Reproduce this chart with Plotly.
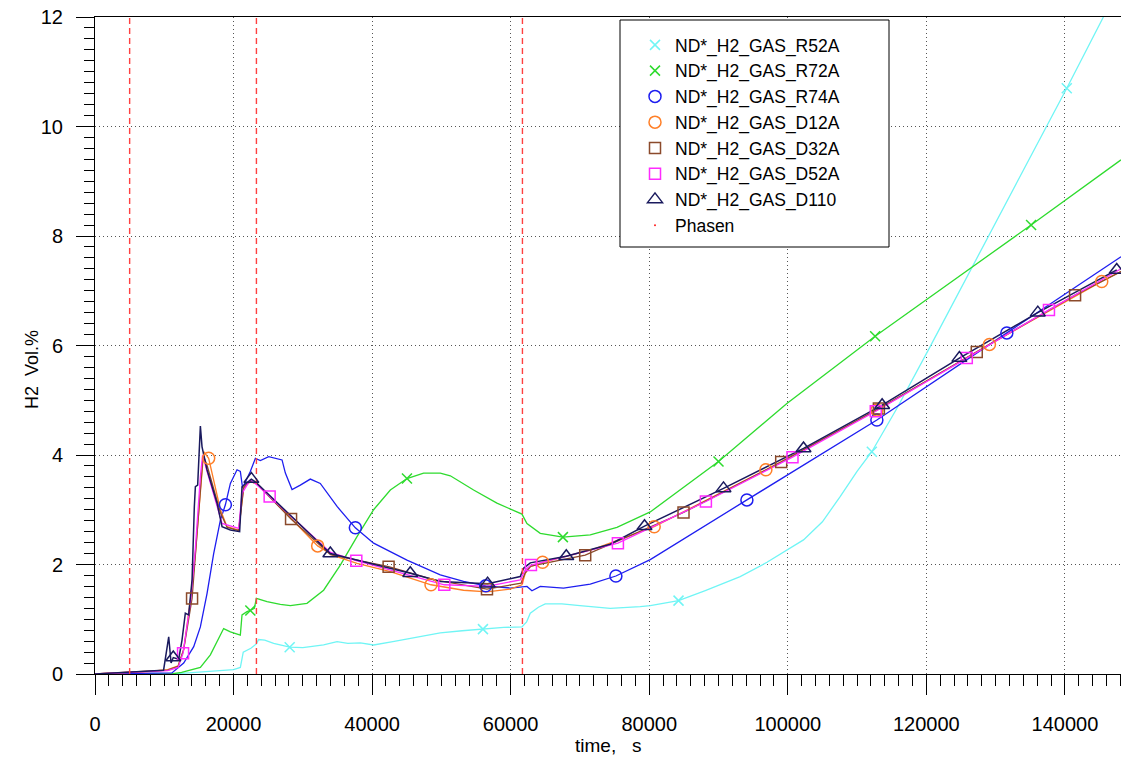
import plotly.graph_objects as go

# ---------------- data ----------------
phase_t = [5000, 23300, 61700]

r52a_t = [0, 11000, 13500, 16000, 18500, 20000, 20980, 21400, 22500, 23290, 23630, 24500, 25790,
          28100, 30000, 33000, 34940, 36500, 38300, 40220, 43000, 46000, 49840, 53000, 56000,
          59000, 61630, 62300, 62830, 64000, 64990, 67400, 70000, 74370, 78700, 80150, 84230,
          88000, 93130, 97000, 102270, 105000, 107560, 110000, 112130, 115740, 120550, 124000,
          128730, 134000, 140270, 145560]
r52a_v = [0, 0, 0.02, 0.04, 0.06, 0.08, 0.12, 0.40, 0.47, 0.55, 0.63, 0.62, 0.56,
          0.49, 0.48, 0.53, 0.59, 0.56, 0.57, 0.53, 0.59, 0.66, 0.75, 0.79, 0.82,
          0.85, 0.86, 0.95, 1.11, 1.22, 1.28, 1.28, 1.25, 1.20, 1.23, 1.25, 1.34,
          1.52, 1.78, 2.04, 2.45, 2.78, 3.24, 3.70, 4.06, 4.85, 5.98, 6.80,
          7.93, 9.20, 10.70, 12.0]
r52a_mk = [28100, 56000, 84230, 112130, 140270]

r72a_t = [0, 11000, 12500, 13770, 15210, 16650, 17600, 18570, 19540, 20980, 21220, 21940, 22420,
          23000, 23290, 24830, 26750, 28200, 30600, 33000, 35410, 37820, 40220, 42630, 45030,
          47430, 49840, 51290, 54650, 58020, 61630, 62350, 64270, 67540, 71490, 75340, 80150,
          90000, 99870, 112610, 135120, 148100]
r72a_v = [0, 0, 0.03, 0.07, 0.12, 0.35, 0.60, 0.83, 0.77, 0.71, 1.08, 1.14, 1.16,
          1.20, 1.38, 1.32, 1.27, 1.25, 1.29, 1.53, 1.99, 2.51, 3.00, 3.36, 3.57,
          3.67, 3.67, 3.62, 3.36, 3.12, 2.92, 2.75, 2.57, 2.50, 2.54, 2.68, 2.96,
          3.88, 4.94, 6.17, 8.20, 9.39]
r72a_mk = [22420, 45030, 67540, 90000, 112610, 135120]

r74a_t = [0, 11100, 12800, 14250, 15210, 16170, 17130, 18100, 18820, 19540, 20500, 20980, 21300,
          21700, 22420, 23150, 23870, 25070, 27000, 27480, 28440, 29640, 31080, 32520, 34940,
          37580, 40220, 45030, 49840, 53200, 56400, 59940, 62350, 63070, 64270, 67630, 71490,
          75190, 80150, 94100, 112860, 131620, 148100]
r74a_v = [0, 0.02, 0.20, 0.50, 0.86, 1.47, 2.20, 2.81, 3.09, 3.48, 3.73, 3.70, 3.40,
          3.50, 3.70, 3.94, 3.90, 3.97, 3.91, 3.67, 3.37, 3.45, 3.56, 3.48, 3.06,
          2.67, 2.39, 2.08, 1.81, 1.69, 1.61, 1.57, 1.60, 1.52, 1.60, 1.57, 1.64,
          1.79, 2.09, 3.18, 4.64, 6.23, 7.62]
r74a_mk = [18820, 37580, 56400, 75190, 94100, 112860, 131620]

d12a_t = [0, 8200, 10500, 12000, 12800, 13770, 14490, 15210, 15690, 16410, 18100, 19060, 20740,
          21460, 22420, 23390, 32140, 34450, 37820, 42630, 48500, 53200, 56580, 59940, 61630,
          62110, 62830, 64610, 72000, 80720, 96840, 112860, 129110, 145320, 148100]
d12a_v = [0, 0.05, 0.08, 0.15, 0.44, 1.35, 2.20, 3.42, 4.06, 3.94, 3.00, 2.69, 2.63,
          3.42, 3.51, 3.48, 2.34, 2.16, 2.02, 1.87, 1.63, 1.53, 1.50, 1.55, 1.63,
          1.84, 1.96, 2.04, 2.28, 2.69, 3.73, 4.82, 6.02, 7.17, 7.35]
d12a_mk = [16410, 32140, 48500, 64610, 80720, 96840, 112860, 129110, 145320]

d32a_t = [0, 8200, 10500, 12000, 12800, 14010, 14490, 15210, 15600, 16200, 18100, 19060, 20740,
          21460, 22420, 23390, 28300, 34000, 42380, 49000, 56580, 61500, 62100, 62900, 70760,
          84950, 99050, 113150, 127280, 141470, 148100]
d32a_v = [0, 0.05, 0.07, 0.14, 0.45, 1.38, 2.20, 3.45, 4.00, 3.80, 2.95, 2.68, 2.62,
          3.40, 3.52, 3.47, 2.83, 2.18, 1.96, 1.72, 1.55, 1.66, 1.85, 1.97, 2.17,
          2.95, 3.87, 4.85, 5.88, 6.92, 7.35]
d32a_mk = [14010, 28300, 42380, 56580, 70760, 84950, 99050, 113150, 127280, 141470]

d52a_t = [0, 8200, 10500, 12000, 12710, 13770, 14490, 15210, 15530, 16170, 17500, 18340, 20740,
          21220, 22420, 23390, 25210, 34000, 37720, 50420, 56580, 61380, 62110, 62930, 75480,
          88180, 100680, 112700, 125840, 137700, 148100]
d52a_v = [0, 0.04, 0.06, 0.12, 0.38, 1.30, 2.30, 3.60, 4.00, 3.70, 3.10, 2.75, 2.66,
          3.30, 3.55, 3.45, 3.24, 2.22, 2.07, 1.63, 1.60, 1.72, 1.90, 1.99, 2.39,
          3.15, 3.96, 4.80, 5.77, 6.65, 7.40]
d52a_mk = [12710, 25210, 37720, 50420, 62930, 75480, 88180, 100680, 112700, 125840, 137700]

d110_t = [0, 8200, 9900, 10640, 10980, 11300, 12080, 12560, 13040, 13520, 14010, 14340, 14490,
          14820, 15210, 15450, 16170, 17620, 18340, 19540, 20880, 21220, 21940, 22570, 23150,
          33970, 45510, 49840, 56670, 61380, 61860, 62830, 68030, 74370, 79320, 90720, 102270,
          113620, 124770, 136090, 147480]
d110_v = [0, 0.05, 0.07, 0.68, 0.20, 0.30, 0.27, 0.62, 1.11, 1.08, 1.72, 3.06, 3.42,
          3.45, 4.53, 4.15, 3.73, 3.12, 2.69, 2.63, 2.60, 3.42, 3.50, 3.56, 3.51,
          2.20, 1.84, 1.69, 1.65, 1.78, 1.93, 2.03, 2.15, 2.37, 2.70, 3.39, 4.12,
          4.91, 5.77, 6.60, 7.38]
d110_mk = [11300, 22570, 33970, 45510, 56670, 68030, 79320, 90720, 102270, 113620, 124770,
           136090, 147480]

x_ticks = [0, 20000, 40000, 60000, 80000, 100000, 120000, 140000]
y_ticks = [0, 2, 4, 6, 8, 10, 12]

# ---------------- figure ----------------
series = [
    ("ND*_H2_GAS_R52A", r52a_t, r52a_v, r52a_mk, "#70F5F5", "x-thin-open", 10, 1.3),
    ("ND*_H2_GAS_R72A", r72a_t, r72a_v, r72a_mk, "#2EDB2E", "x-thin-open", 10, 1.3),
    ("ND*_H2_GAS_R74A", r74a_t, r74a_v, r74a_mk, "#1E1EF0", "circle-open", 12, 1.3),
    ("ND*_H2_GAS_D12A", d12a_t, d12a_v, d12a_mk, "#FF7F27", "circle-open", 12, 1.3),
    ("ND*_H2_GAS_D32A", d32a_t, d32a_v, d32a_mk, "#8B4A2B", "square-open", 11, 1.3),
    ("ND*_H2_GAS_D52A", d52a_t, d52a_v, d52a_mk, "#FF2BFF", "square-open", 11, 1.3),
    ("ND*_H2_GAS_D110", d110_t, d110_v, d110_mk, "#1A1A5E", "triangle-up-open", 13, 1.5),
]

fig = go.Figure()

# lines
for name, t, v, mk, color, sym, size, lw in series:
    fig.add_trace(go.Scatter(x=t, y=v, mode="lines", line=dict(color=color, width=lw),
                             showlegend=False, hoverinfo="skip"))

# phase lines
px_, py_ = [], []
for p in phase_t:
    px_ += [p, p, None]
    py_ += [0, 12, None]
fig.add_trace(go.Scatter(x=px_, y=py_, mode="lines",
                         line=dict(color="#FF4040", width=1.4, dash="6px,4px"),
                         showlegend=False, hoverinfo="skip"))

# markers (also legend entries)
for name, t, v, mk, color, sym, size, lw in series:
    lookup = dict(zip(t, v))
    fig.add_trace(go.Scatter(x=mk, y=[lookup[m] for m in mk], mode="markers", name=name,
                             marker=dict(symbol=sym, size=size, color=color,
                                         line=dict(color=color, width=1.5))))

fig.add_trace(go.Scatter(x=phase_t, y=[None] * len(phase_t), mode="markers", name="Phasen",
                         marker=dict(symbol="circle", size=2, color="#FF2020")))

L, R, T, B = 95, 0, 17, 84
W, H = 1121, 758
pw, ph = W - L - R, H - T - B

def pxx(x):
    return (x - L) / pw

def pxy(y):
    return (H - B - y) / ph

font_family = "Liberation Sans, Arial, sans-serif"

fig.update_layout(
    width=W, height=H,
    margin=dict(l=L, r=R, t=T, b=B, pad=0),
    paper_bgcolor="white", plot_bgcolor="white",
    font=dict(family=font_family, color="black"),
    showlegend=True,
    legend=dict(x=pxx(635), y=pxy(27), xanchor="left", yanchor="top",
                bgcolor="rgba(0,0,0,0)", borderwidth=0,
                font=dict(family=font_family, size=17.5, color="black"),
                traceorder="normal"),
    shapes=[dict(type="rect", xref="paper", yref="paper",
                 x0=pxx(620), x1=pxx(889), y0=pxy(247), y1=pxy(20),
                 line=dict(color="black", width=1), fillcolor="white", layer="above")],
    annotations=[
        dict(text="time,\u00a0\u00a0\u00a0s", xref="paper", yref="paper",
             x=pxx(608), y=pxy(745), showarrow=False, xanchor="center", yanchor="middle",
             font=dict(family=font_family, size=19, color="black")),
        dict(text="H2\u00a0\u00a0Vol.%", xref="paper", yref="paper", textangle=-90,
             x=pxx(32), y=pxy(370), showarrow=False, xanchor="center", yanchor="middle",
             font=dict(family=font_family, size=18, color="black")),
    ],
)

fig.update_xaxes(
    range=[0, 148100], tickvals=x_ticks, ticktext=[str(v) for v in x_ticks],
    showgrid=True, gridcolor="#555555", griddash="1px,3px", gridwidth=1,
    showline=True, linecolor="black", linewidth=1, mirror=True,
    ticks="outside", ticklen=20, tickcolor="black", tickwidth=1,
    minor=dict(dtick=2000, tick0=0, ticks="outside", ticklen=11, tickcolor="black",
               tickwidth=1, showgrid=False),
    zeroline=False, ticklabelstandoff=12,
    tickfont=dict(family=font_family, size=20, color="black"),
)
fig.update_yaxes(
    range=[0, 12], tickvals=y_ticks, ticktext=[str(v) for v in y_ticks],
    showgrid=True, gridcolor="#555555", griddash="1px,3px", gridwidth=1,
    showline=True, linecolor="black", linewidth=1,
    ticks="outside", ticklen=18, tickcolor="black", tickwidth=1,
    minor=dict(dtick=0.2, tick0=0, ticks="outside", ticklen=10, tickcolor="black",
               tickwidth=1, showgrid=False),
    zeroline=False, ticklabelstandoff=9,
    tickfont=dict(family=font_family, size=20, color="black"),
)

fig.write_html("out.html")
